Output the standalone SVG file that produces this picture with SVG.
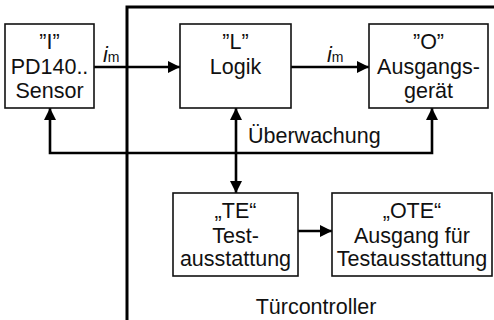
<svg xmlns="http://www.w3.org/2000/svg" width="494" height="320" viewBox="0 0 494 320">
<defs>
<marker id="ah" viewBox="0 0 12 12" refX="12" refY="6" markerWidth="12" markerHeight="12" markerUnits="userSpaceOnUse" orient="auto-start-reverse">
<path d="M0,0 L12,6 L0,12 Z" fill="#000"/>
</marker>
</defs>
<style>
text{font-family:"Liberation Sans",Arial,sans-serif;font-size:21.5px;fill:#111;text-anchor:middle}
.box{fill:#fff;stroke:#111;stroke-width:1.6}
.c{fill:none;stroke:#000;stroke-width:2.6}
.sub{font-size:14px}
</style>
<g id="container">
<path d="M127,320 V7 H494" fill="none" stroke="#000" stroke-width="3"/>
<text x="316" y="314">Türcontroller</text>
</g>
<g id="connectors">
<line class="c" x1="94" y1="67" x2="180" y2="67" marker-end="url(#ah)"/>
<line class="c" x1="291" y1="67" x2="369" y2="67" marker-end="url(#ah)"/>
<polyline class="c" points="50,108 50,153 432,153 432,108" marker-start="url(#ah)" marker-end="url(#ah)"/>
<line class="c" x1="236" y1="108" x2="236" y2="193" marker-start="url(#ah)" marker-end="url(#ah)"/>
<line class="c" x1="298" y1="231" x2="332" y2="231" marker-end="url(#ah)"/>
<text x="103" y="62" style="text-anchor:start"><tspan font-style="italic">i</tspan><tspan class="sub">m</tspan></text>
<text x="327" y="62" style="text-anchor:start"><tspan font-style="italic">i</tspan><tspan class="sub">m</tspan></text>
<text x="248" y="143" style="text-anchor:start">Überwachung</text>
</g>
<g id="sensor">
<rect class="box" x="5" y="24" width="89" height="84"/>
<text x="49.5" y="49">”I”</text>
<text x="49.5" y="73.5">PD140..</text>
<text x="49.5" y="98">Sensor</text>
</g>
<g id="logik">
<rect class="box" x="180" y="24" width="111" height="84"/>
<text x="235.5" y="49">”L”</text>
<text x="235.5" y="73.5">Logik</text>
</g>
<g id="ausgang">
<rect class="box" x="369" y="24" width="119" height="84"/>
<text x="428.5" y="49">”O”</text>
<text x="428.5" y="73.5">Ausgangs-</text>
<text x="428.5" y="98">gerät</text>
</g>
<g id="te">
<rect class="box" x="173" y="193" width="125" height="83"/>
<text x="235.5" y="218">„TE“</text>
<text x="235.5" y="243">Test-</text>
<text x="235.5" y="266">ausstattung</text>
</g>
<g id="ote">
<rect class="box" x="332" y="193" width="160" height="83"/>
<text x="412" y="218">„OTE“</text>
<text x="412" y="243">Ausgang für</text>
<text x="412" y="266">Testausstattung</text>
</g>
</svg>
